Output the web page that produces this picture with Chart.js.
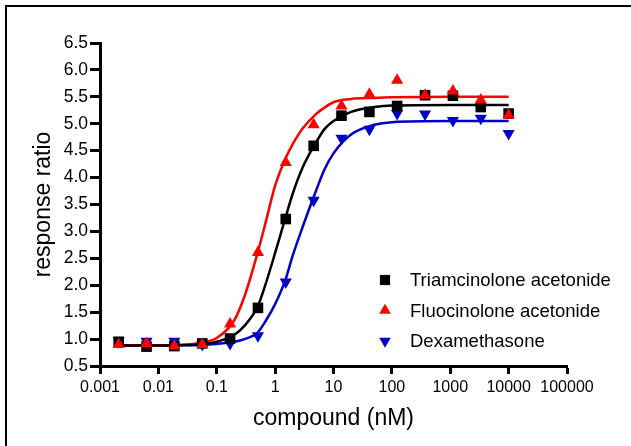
<!DOCTYPE html>
<html>
<head>
<meta charset="utf-8">
<script src="https://cdn.jsdelivr.net/npm/chart.js"></script>
<style>
  html, body { margin: 0; padding: 0; background: #fff; }
  #wrap { position: relative; width: 631px; height: 446px; overflow: hidden; }
  #frame { position: absolute; left: 5px; top: 5px; width: 640px; height: 460px; border-left: 2px solid #000; border-top: 2px solid #000; }
  canvas { position: absolute; left: 0; top: 0; }
</style>
</head>
<body>
<div id="wrap">
  <div id="frame"></div>
  <canvas id="myChart" width="631" height="446"></canvas>
</div>
<script>
// measured points (3-fold dilutions, nM)
const conc = [0.00209, 0.00627, 0.0188, 0.0565, 0.169, 0.508, 1.52, 4.57, 13.7, 41.2, 123, 370, 1111, 3333, 10000];
const triamcinolone = [0.95, 0.86, 0.87, 0.92, 1.01, 1.58, 3.23, 4.59, 5.15, 5.22, 5.33, 5.53, 5.52, 5.31, 5.19];
const fluocinolone = [0.90, 0.92, 0.87, 0.90, 1.28, 2.61, 4.28, 4.98, 5.33, 5.55, 5.81, 5.53, 5.61, 5.44, 5.16];
const dexamethasone = [0.97, 0.96, 0.96, 0.90, 0.92, 1.06, 2.06, 3.58, 4.73, 4.90, 5.19, 5.18, 5.06, 5.10, 4.82];

// fitted curves
const fitConc = [0.002, 0.01, 0.03, 0.05, 0.1, 0.2, 0.3, 0.5, 0.7, 1, 1.5, 2, 3, 5, 7, 10, 20, 50, 100, 1000, 10000];
const triamcinoloneFit = [0.88, 0.88, 0.89, 0.90, 0.95, 1.08, 1.25, 1.60, 2.05, 2.60, 3.25, 3.70, 4.20, 4.65, 4.90, 5.05, 5.22, 5.31, 5.34, 5.35, 5.35];
const fluocinoloneFit = [0.88, 0.885, 0.90, 0.93, 1.02, 1.35, 1.80, 2.60, 3.20, 3.85, 4.35, 4.62, 4.92, 5.18, 5.30, 5.40, 5.46, 5.48, 5.49, 5.50, 5.50];
const dexamethasoneFit = [0.88, 0.88, 0.885, 0.89, 0.91, 0.95, 1.00, 1.12, 1.35, 1.65, 2.10, 2.55, 3.10, 3.75, 4.15, 4.45, 4.80, 4.98, 5.03, 5.05, 5.05];

const seriesNames = ['Triamcinolone acetonide', 'Fluocinolone acetonide', 'Dexamethasone'];
const seriesColors = ['#000000', '#ff0000', '#0000c8'];

const xTickValues = [0.001, 0.01, 0.1, 1, 10, 100, 1000, 10000, 100000];
const xTickLabels = ['0.001', '0.01', '0.1', '1', '10', '100', '1000', '10000', '100000'];
const yTickValues = [0.5, 1.0, 1.5, 2.0, 2.5, 3.0, 3.5, 4.0, 4.5, 5.0, 5.5, 6.0, 6.5];
const yTickLabels = ['0.5', '1.0', '1.5', '2.0', '2.5', '3.0', '3.5', '4.0', '4.5', '5.0', '5.5', '6.0', '6.5'];

const ctx = document.getElementById('myChart');

const toPoints = (xs, ys) => xs.map((x, i) => ({ x: x, y: ys[i] }));

const markers = [
  { pointStyle: 'rect', radius: 7.5, rotation: 0 },
  { pointStyle: 'triangle', radius: 7, rotation: 0 },
  { pointStyle: 'triangle', radius: 7, rotation: 180 }
];

const fitLine = (data, i) => ({
  data: toPoints(fitConc, data),
  showLine: true,
  borderColor: seriesColors[i],
  borderWidth: 2.5,
  pointRadius: 0,
  cubicInterpolationMode: 'monotone',
  order: 10
});

const pointSet = (data, i, order) => ({
  data: toPoints(conc, data),
  showLine: false,
  pointStyle: markers[i].pointStyle,
  pointRadius: markers[i].radius,
  pointRotation: markers[i].rotation,
  backgroundColor: seriesColors[i],
  borderColor: seriesColors[i],
  borderWidth: 0,
  order: order
});

// legend drawn inside the plot, bottom right
const insideLegend = {
  id: 'insideLegend',
  afterDraw(chart) {
    const c = chart.ctx;
    const area = chart.chartArea;
    c.save();
    c.font = '18.5px "Liberation Sans", Arial, sans-serif';
    c.textBaseline = 'middle';
    c.textAlign = 'left';
    seriesNames.forEach((name, i) => {
      const y = area.top + 237 + i * 30.5;
      const x = area.left + 285;
      c.fillStyle = seriesColors[i];
      c.strokeStyle = seriesColors[i];
      Chart.helpers.drawPoint(c, { pointStyle: markers[i].pointStyle, radius: markers[i].radius - 0.3, rotation: markers[i].rotation, borderWidth: 0 }, x, y);
      c.fillStyle = '#000';
      c.fillText(name, x + 25, y + 1);
    });
    c.restore();
  }
};

new Chart(ctx, {
  type: 'scatter',
  data: {
    datasets: [
      fitLine(triamcinoloneFit, 0),
      fitLine(fluocinoloneFit, 1),
      fitLine(dexamethasoneFit, 2),
      pointSet(dexamethasone, 2, 3),
      pointSet(triamcinolone, 0, 2),
      pointSet(fluocinolone, 1, 1)
    ]
  },
  options: {
    responsive: false,
    animation: false,
    events: [],
    layout: { padding: { left: 0, top: 43, right: 64, bottom: 0 } },
    plugins: { legend: { display: false }, tooltip: { enabled: false } },
    scales: {
      x: {
        type: 'logarithmic',
        min: 0.001,
        max: 100000,
        afterFit: (s) => { s.height = 80; },
        afterBuildTicks: (s) => { s.ticks = xTickValues.map(v => ({ value: v })); },
        ticks: {
          autoSkip: false,
          maxRotation: 0,
          padding: 4,
          color: '#000',
          font: { family: '"Liberation Sans", Arial, sans-serif', size: 16 },
          callback: (v, i) => xTickLabels[i]
        },
        grid: { drawOnChartArea: false, tickLength: 8, tickWidth: 3, tickColor: '#000' },
        border: { display: true, width: 3, color: '#000' },
        title: {
          display: true,
          text: 'compound (nM)',
          color: '#000',
          font: { family: '"Liberation Sans", Arial, sans-serif', size: 23 },
          padding: { top: 0, bottom: 14 }
        }
      },
      y: {
        min: 0.5,
        max: 6.5,
        afterFit: (s) => { s.width = 100; },
        afterBuildTicks: (s) => { s.ticks = yTickValues.map(v => ({ value: v })); },
        ticks: {
          autoSkip: false,
          padding: 2,
          color: '#000',
          font: { family: '"Liberation Sans", Arial, sans-serif', size: 17.5 },
          callback: (v, i) => yTickLabels[i]
        },
        grid: { drawOnChartArea: false, tickLength: 10, tickWidth: 3, tickColor: '#000' },
        border: { display: true, width: 3, color: '#000' },
        title: {
          display: true,
          text: 'response ratio',
          color: '#000',
          font: { family: '"Liberation Sans", Arial, sans-serif', size: 23 },
          padding: { top: 30, bottom: 0 }
        }
      }
    }
  },
  plugins: [insideLegend]
});
</script>
</body>
</html>
